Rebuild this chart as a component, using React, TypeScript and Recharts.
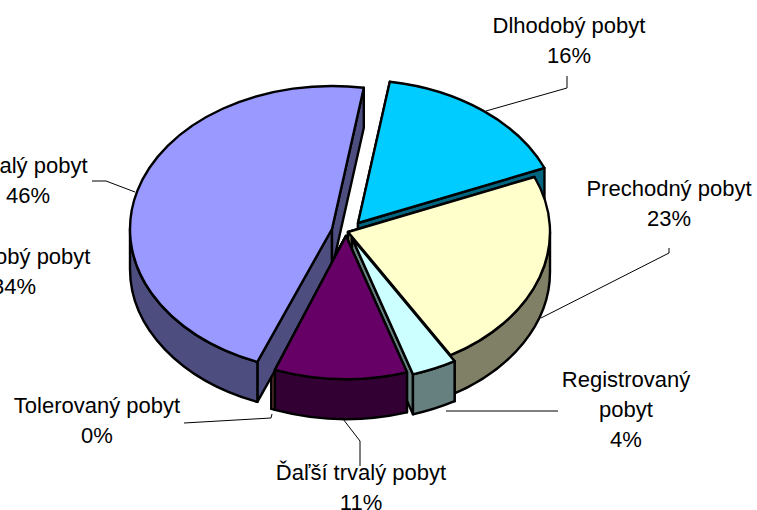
import React from 'react';
import { PieChart, Pie } from 'recharts';

// clockwise, painted back to front
const categories = ['Tolerovaný pobyt', 'Trvalý pobyt', 'Dlhodobý pobyt', 'Prechodný pobyt', 'Registrovaný pobyt', 'Ďaľší trvalý pobyt'];
const shares = [0.3, 46.49, 16.2, 22.8, 3.6, 10.6];
const topColors = ['#FF8080', '#9999FF', '#00CCFF', '#FFFFCC', '#CCFFFF', '#660066'];
const wallColors = ['#9C5050', '#4D4D80', '#006680', '#808066', '#668080', '#330033'];

const data = categories.map((name, i) => ({ name, value: shares[i] }));

// how far each slice is pulled out of the centre
const explode = [[-2, 4], [-16, -3], [10, -9], [0, 0], [4, 6], [-2, 4]];

// label layout: text lines centre x, first baseline y, leader line
const labelLayout = [
  { x: 97, y: 413, lines: ['Tolerovaný pobyt'], leader: '184,423 271,418 272,414' },
  { x: 28, y: 173, lines: ['Trvalý pobyt'], leader: '92,181 106,181 135,192' },
  { x: 569, y: 33, lines: ['Dlhodobý pobyt'], leader: '567,76 567,88 486,111' },
  { x: 669, y: 196, lines: ['Prechodný pobyt'], leader: '669,248 669,253 541,318' },
  { x: 626, y: 387, lines: ['Registrovaný', 'pobyt'], leader: '558,411 446,411' },
  { x: 361, y: 480, lines: ['Ďaľší trvalý pobyt'], leader: '360,466 360,441 343,419' },
];
const LINE_HEIGHT = 30;
const FONT_SIZE = 22;
const FONT = 'Arial, "Liberation Sans", sans-serif';

const RY_RATIO = 0.708;
const DEPTH = 40;
const rad = (a: number) => (a * Math.PI) / 180;

const SliceShape = (props: any) => {
  const { cx, cy, outerRadius, startAngle, endAngle, index } = props;
  const [ox, oy] = explode[index];
  const rx = outerRadius;
  const ry = outerRadius * RY_RATIO;
  const px = cx + ox;
  const py = cy + oy;
  const pt = (a: number) => [px + rx * Math.cos(rad(a)), py - ry * Math.sin(rad(a))];
  const s = pt(startAngle);
  const e = pt(endAngle);
  const large = Math.abs(startAngle - endAngle) > 180 ? 1 : 0;
  const top = `M${px},${py} L${s[0]},${s[1]} A${rx},${ry} 0 ${large} 1 ${e[0]},${e[1]} Z`;
  const cut = (p: number[]) => `M${px},${py} L${p[0]},${p[1]} L${p[0]},${p[1] + DEPTH} L${px},${py + DEPTH} Z`;

  // outer wall only on the front half of the rim
  const walls: string[] = [];
  [0, -360].forEach((k) => {
    const a0 = Math.min(startAngle, k);
    const a1 = Math.max(endAngle, k - 180);
    if (a0 > a1) {
      const p = pt(a0);
      const q = pt(a1);
      walls.push(`M${p[0]},${p[1]} A${rx},${ry} 0 0 1 ${q[0]},${q[1]} L${q[0]},${q[1] + DEPTH} A${rx},${ry} 0 0 0 ${p[0]},${p[1] + DEPTH} Z`);
    }
  });

  const style = { stroke: '#000', strokeWidth: 2.4, strokeLinejoin: 'round' as const };
  return (
    <g>
      <path d={cut(s)} fill={wallColors[index]} {...style} />
      <path d={cut(e)} fill={wallColors[index]} {...style} />
      {walls.map((d) => <path key={d} d={d} fill={wallColors[index]} {...style} />)}
      <path d={top} fill={topColors[index]} {...style} />
    </g>
  );
};

const SliceLabel = (props: any) => {
  const { index, percent } = props;
  const l = labelLayout[index];
  return (
    <g>
      <polyline points={l.leader} fill="none" stroke="#000" strokeWidth={1} />
      <text x={l.x} y={l.y} textAnchor="middle" fontFamily={FONT} fontSize={FONT_SIZE} fill="#000">
        {l.lines.map((t, i) => (
          <tspan key={t} x={l.x} dy={i === 0 ? 0 : LINE_HEIGHT}>{t}</tspan>
        ))}
        <tspan x={l.x} dy={LINE_HEIGHT}>{Math.round(percent * 100)}%</tspan>
      </text>
    </g>
  );
};

export default function App() {
  return (
    <div style={{ position: 'absolute', left: 0, top: 0, width: 757, height: 510, background: '#fff', overflow: 'hidden' }}>
      <PieChart width={757} height={510} margin={{ top: 0, right: 0, bottom: 0, left: 0 }}>
        <Pie
          data={data}
          dataKey="value"
          nameKey="name"
          cx={348}
          cy={232}
          innerRadius={0}
          outerRadius={202}
          startAngle={-110.6}
          endAngle={-470.6}
          shape={SliceShape}
          label={SliceLabel}
          labelLine={false}
          isAnimationActive={false}
        />
        <text x={14} y={264} textAnchor="middle" fontFamily={FONT} fontSize={FONT_SIZE} fill="#000">
          <tspan x={14}>Dlhodobý pobyt</tspan>
          <tspan x={14} dy={30}>34%</tspan>
        </text>
      </PieChart>
    </div>
  );
}
